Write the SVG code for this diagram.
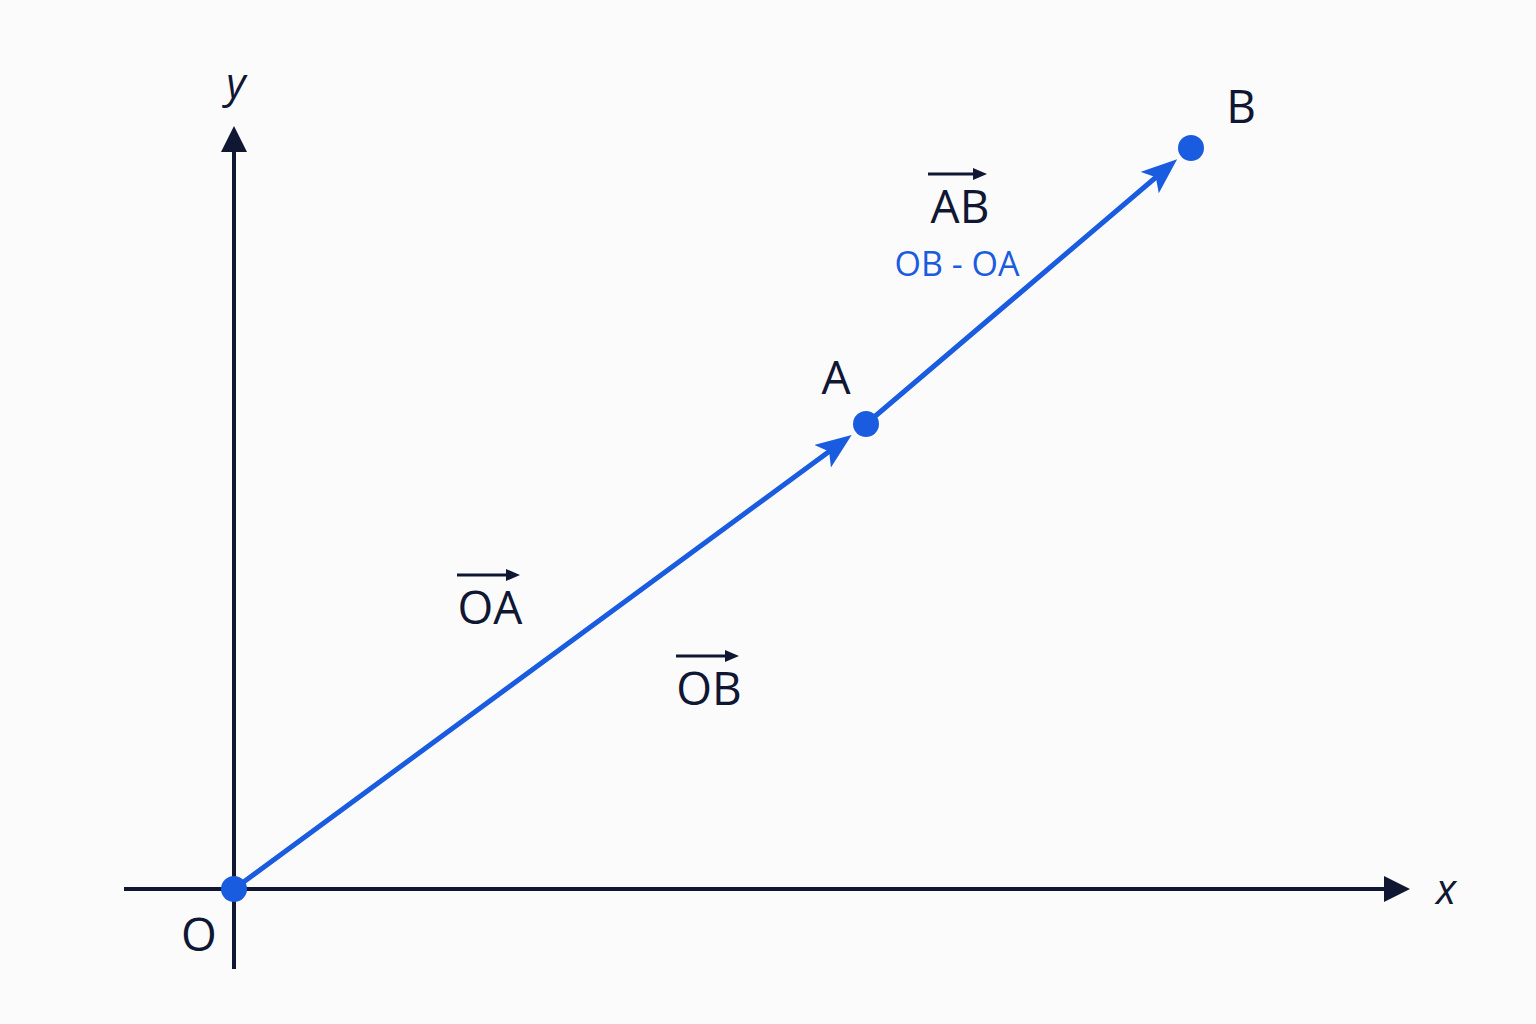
<svg xmlns="http://www.w3.org/2000/svg" width="1536" height="1024" viewBox="0 0 1536 1024">
<defs>
<style>
.axis{stroke:#0f1733;stroke-width:4;fill:none}
.vec{stroke:#1a5ce0;stroke-width:5;fill:none;stroke-linecap:round}
.ov{stroke:#0f1733;stroke-width:2.8;fill:none}
.lbl{font-family:"Open Sans","Noto Sans",sans-serif;fill:#0f1733;font-size:46px;font-weight:500}
.it{font-style:italic;font-size:42px}
.blue{fill:#1a5ce0;font-size:34px}
.dot{fill:#1a5ce0}
</style>
<marker id="ah" markerUnits="userSpaceOnUse" markerWidth="44" markerHeight="32" refX="24" refY="14" orient="auto">
<path d="M0,0 L36,14 L0,28 L8,14 Z" fill="#1a5ce0"/>
</marker>
<marker id="ax" markerUnits="userSpaceOnUse" markerWidth="30" markerHeight="30" refX="4" refY="13" orient="auto">
<path d="M0,0 L26,13 L0,26 Z" fill="#0f1733"/>
</marker>
<marker id="oa" markerUnits="userSpaceOnUse" markerWidth="16" markerHeight="14" refX="3" refY="6" orient="auto">
<path d="M0,0 L14,6 L0,12 Z" fill="#0f1733"/>
</marker>
</defs>
<rect width="1536" height="1024" fill="#fbfbfc"/>
<g id="axes">
<line class="axis" x1="124" y1="889" x2="1388" y2="889" marker-end="url(#ax)"/>
<line class="axis" x1="234" y1="969" x2="234" y2="148" marker-end="url(#ax)"/>
<text class="lbl it" x="1446" y="904" text-anchor="middle">x</text>
<text class="lbl it" x="236" y="98" text-anchor="middle">y</text>
</g>
<g id="connectors">
<line class="vec" x1="234" y1="889" x2="842" y2="442" marker-end="url(#ah)"/>
<line class="vec" x1="866" y1="424" x2="1168" y2="167" marker-end="url(#ah)"/>
</g>
<g id="node-O">
<circle class="dot" cx="234" cy="889" r="13"/>
<text class="lbl" x="199" y="951" text-anchor="middle" font-size="44">O</text>
</g>
<g id="node-A">
<circle class="dot" cx="866" cy="424" r="13"/>
<text class="lbl" x="836" y="394" text-anchor="middle">A</text>
</g>
<g id="node-B">
<circle class="dot" cx="1191" cy="148" r="13"/>
<text class="lbl" x="1241" y="123" text-anchor="middle">B</text>
</g>
<g id="label-OA">
<line class="ov" x1="457" y1="575" x2="509" y2="575" marker-end="url(#oa)"/>
<text class="lbl" x="490" y="624" text-anchor="middle">OA</text>
</g>
<g id="label-OB">
<line class="ov" x1="676" y1="656" x2="728" y2="656" marker-end="url(#oa)"/>
<text class="lbl" x="709" y="705" text-anchor="middle">OB</text>
</g>
<g id="label-AB">
<line class="ov" x1="928" y1="174" x2="976" y2="174" marker-end="url(#oa)"/>
<text class="lbl" x="960" y="223" text-anchor="middle">AB</text>
<text class="lbl blue" x="957" y="276" text-anchor="middle">OB - OA</text>
</g>
</svg>
